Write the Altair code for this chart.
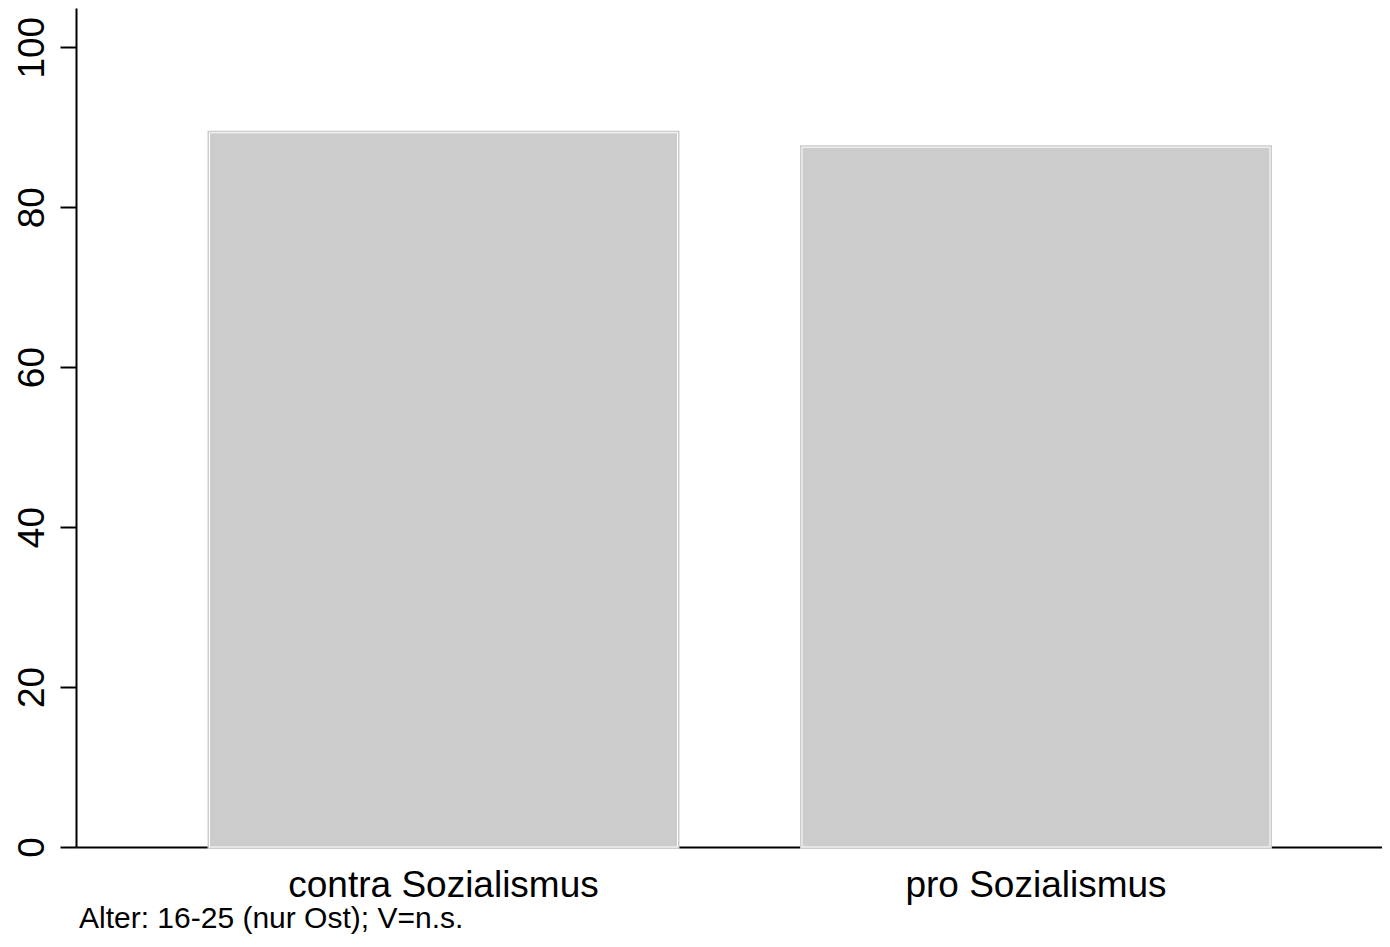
import altair as alt
import pandas as pd

categories = ["contra Sozialismus", "pro Sozialismus"]
values = [89.3, 87.5]
footnote = "Alter: 16-25 (nur Ost); V=n.s."
y_ticks = [0, 20, 40, 60, 80, 100]

df = pd.DataFrame({"cat": categories, "val": values})
note_df = pd.DataFrame({"note": [footnote]})

FONT = "Liberation Sans"
W, H = 1306, 839

x_enc = alt.X(
    "cat:N",
    sort=categories,
    title=None,
    scale=alt.Scale(paddingInner=0.2101, paddingOuter=0.2072, align=0.5438),
    axis=alt.Axis(
        labelAngle=0,
        labelFont=FONT,
        labelFontSize=37,
        labelColor="black",
        labelPadding=20,
        labelLimit=0,
        ticks=False,
        tickSize=0,
        domainColor="black",
        domainWidth=2,
        grid=False,
    ),
)
y_enc = alt.Y(
    "val:Q",
    title=None,
    scale=alt.Scale(domain=[0, 104.9], nice=False, zero=True),
    axis=alt.Axis(
        values=y_ticks,
        labelAngle=270,
        labelAlign="center",
        labelBaseline="alphabetic",
        labelFont=FONT,
        labelFontSize=37,
        labelColor="black",
        labelPadding=17,
        tickSize=16,
        tickWidth=2,
        tickColor="black",
        domainColor="black",
        domainWidth=2,
        grid=False,
    ),
)

base = alt.Chart(df)
bars = base.mark_bar(color="#cccccc", stroke="#cccccc", strokeWidth=4).encode(x=x_enc, y=y_enc)
inner = base.mark_bar(fillOpacity=0, stroke="white", strokeWidth=1).encode(x=x_enc, y=y_enc)

note = alt.Chart(note_df).mark_text(
    align="left", baseline="alphabetic", font=FONT, fontSize=30, color="black"
).encode(text="note:N", x=alt.value(3), y=alt.value(H + 81))

chart = (
    alt.layer(bars, inner, note)
    .properties(
        width=W,
        height=H,
        autosize=alt.AutoSizeParams(type="none"),
        padding={"left": 68, "top": 0, "right": 0, "bottom": 88},
        background="white",
    )
    .configure_view(stroke=None)
)

chart.save("out.html", embed_options={"renderer": "svg", "actions": False})
